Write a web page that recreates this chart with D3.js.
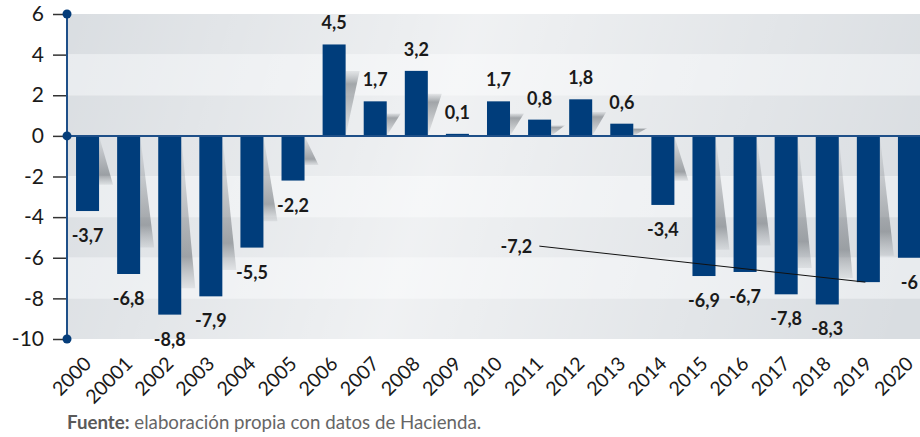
<!DOCTYPE html>
<html>
<head>
<meta charset="utf-8">
<script src="https://cdn.jsdelivr.net/npm/d3@7"></script>
<style>
  body { margin: 0; background: #fff; }
  svg { display: block; font-family: Lato, "Open Sans", sans-serif; }
</style>
</head>
<body>
<div id="chart"></div>
<script>
// data
var years = ["2000", "20001", "2002", "2003", "2004", "2005", "2006", "2007", "2008", "2009",
  "2010", "2011", "2012", "2013", "2014", "2015", "2016", "2017", "2018", "2019", "2020"];
var values = [-3.7, -6.8, -8.8, -7.9, -5.5, -2.2, 4.5, 1.7, 3.2, 0.1,
  1.7, 0.8, 1.8, 0.6, -3.4, -6.9, -6.7, -7.8, -8.3, -7.2, -6];
var yTicks = [6, 4, 2, 0, -2, -4, -6, -8, -10];
var dotTicks = [6, 0, -10];
var source = "elaboración propia con datos de Hacienda.";

var svgWidth = 920;
var svgHeight = 437;

var plot = { left: 67, top: 14, bottom: 339, right: 930 };

var svg = d3.select("#chart")
  .append("svg")
  .attr("width", svgWidth)
  .attr("height", svgHeight);

var data = years.map(function(y, i) { return { year: y, value: values[i] }; });

// scales
var x = d3.scaleBand()
  .domain(years)
  .range([plot.left, plot.right])
  .paddingInner(0.44)
  .paddingOuter(0.22);

var y = d3.scaleLinear()
  .domain([-10, 6])
  .range([plot.bottom, plot.top]);

var defs = svg.append("defs");

// light streak over the banded background
var sheen = defs.append("linearGradient")
  .attr("id", "sheen")
  .attr("gradientUnits", "userSpaceOnUse")
  .attr("x1", 60).attr("y1", 0)
  .attr("x2", 920).attr("y2", 260);
sheen.append("stop").attr("offset", "0").attr("stop-color", "#fff").attr("stop-opacity", 0);
sheen.append("stop").attr("offset", "0.45").attr("stop-color", "#fff").attr("stop-opacity", 0.6);
sheen.append("stop").attr("offset", "1").attr("stop-color", "#fff").attr("stop-opacity", 0);

// shadow gradients
var shNeg = defs.append("linearGradient")
  .attr("id", "shNeg").attr("x1", 0).attr("y1", 0).attr("x2", 0).attr("y2", 1);
shNeg.append("stop").attr("offset", "0").attr("stop-color", "#6e7378").attr("stop-opacity", 0.05);
shNeg.append("stop").attr("offset", "0.8").attr("stop-color", "#6e7378").attr("stop-opacity", 0.6);
shNeg.append("stop").attr("offset", "1").attr("stop-color", "#8a8f94").attr("stop-opacity", 0.15);

var shPos = defs.append("linearGradient")
  .attr("id", "shPos").attr("x1", 0).attr("y1", 1).attr("x2", 0).attr("y2", 0);
shPos.append("stop").attr("offset", "0").attr("stop-color", "#6e7378").attr("stop-opacity", 0.05);
shPos.append("stop").attr("offset", "0.8").attr("stop-color", "#6e7378").attr("stop-opacity", 0.6);
shPos.append("stop").attr("offset", "1").attr("stop-color", "#8a8f94").attr("stop-opacity", 0.15);

// background bands between gridlines
var bandEdges = d3.pairs(yTicks);
var bandDark = [true, false, true, true, false, true, false, true];
svg.append("g")
  .selectAll("rect")
  .data(bandEdges)
  .enter()
  .append("rect")
  .attr("x", plot.left)
  .attr("y", d => y(d[0]))
  .attr("width", svgWidth - plot.left)
  .attr("height", d => y(d[1]) - y(d[0]))
  .attr("fill", (d, i) => bandDark[i] ? "#d9dde1" : "#e8ebee");

svg.append("rect")
  .attr("x", plot.left)
  .attr("y", plot.top)
  .attr("width", svgWidth - plot.left)
  .attr("height", plot.bottom - plot.top)
  .attr("fill", "url(#sheen)");

// shadows behind the bars
function shadowEnd(v) {
  var cut = Math.min(1.3, Math.abs(v) * 0.35);
  return v < 0 ? v + cut : v - cut;
}

var slant = 14;
svg.append("g")
  .selectAll("path")
  .data(data.filter(d => Math.abs(d.value) > 0.3))
  .enter()
  .append("path")
  .attr("d", function(d) {
    var xr = x(d.year) + x.bandwidth();
    var y0 = y(0);
    var y1 = y(shadowEnd(d.value));
    return "M" + xr + "," + y0 + "L" + xr + "," + y1 + "L" + (xr + slant) + "," + y1 + "Z";
  })
  .attr("fill", d => d.value < 0 ? "url(#shNeg)" : "url(#shPos)");

// bars
svg.append("g")
  .selectAll("rect")
  .data(data)
  .enter()
  .append("rect")
  .attr("x", d => x(d.year))
  .attr("y", d => y(Math.max(0, d.value)))
  .attr("width", x.bandwidth())
  .attr("height", d => Math.abs(y(d.value) - y(0)))
  .attr("fill", "#003d7b");

// zero line
svg.append("line")
  .attr("x1", plot.left).attr("x2", svgWidth)
  .attr("y1", y(0)).attr("y2", y(0))
  .attr("stroke", "#1e4f88")
  .attr("stroke-width", 2);

// y axis
var leftAxis = d3.axisLeft(y)
  .tickValues(yTicks)
  .tickSize(14)
  .tickPadding(9)
  .tickFormat(d => d);

var yAxis = svg.append("g")
  .attr("transform", `translate(${plot.left}, 0)`)
  .call(leftAxis);
yAxis.select(".domain").remove();
yAxis.selectAll(".tick line").attr("stroke", "#333").attr("stroke-width", 1.5);
yAxis.selectAll(".tick text")
  .attr("fill", "#1a1a1a")
  .style("font-size", "21px")
  .style("font-family", "Lato, sans-serif");

svg.append("line")
  .attr("x1", plot.left).attr("x2", plot.left)
  .attr("y1", plot.top).attr("y2", plot.bottom)
  .attr("stroke", "#1e4f88")
  .attr("stroke-width", 2);

svg.append("g")
  .selectAll("circle")
  .data(dotTicks)
  .enter()
  .append("circle")
  .attr("cx", plot.left)
  .attr("cy", d => y(d))
  .attr("r", 4.5)
  .attr("fill", "#053d7a");

// x axis labels
var bottomAxis = d3.axisBottom(x).tickSize(0);
var xAxis = svg.append("g")
  .attr("transform", `translate(0, ${plot.bottom})`)
  .call(bottomAxis);
xAxis.select(".domain").remove();
xAxis.selectAll(".tick text")
  .attr("x", 0)
  .attr("y", 0)
  .attr("dy", 0)
  .attr("text-anchor", "end")
  .attr("transform", "translate(5, 26) rotate(-45)")
  .attr("fill", "#1a1a1a")
  .style("font-size", "19.5px")
  .style("font-family", "Lato, sans-serif");

// value labels
var fmt = v => String(v).replace(".", ",");
var moved = "2019"; // this label sits off to the left with a leader line

var labelGroup = svg.append("g")
  .style("font-size", "18px")
  .style("font-weight", "bold")
  .attr("fill", "#1a1a1a")
  .attr("text-anchor", "middle");

labelGroup.selectAll("text")
  .data(data)
  .enter()
  .append("text")
  .attr("x", d => d.year === moved ? x(d.year) + x.bandwidth() / 2 - 352 : x(d.year) + x.bandwidth() / 2)
  .attr("y", function(d) {
    if (d.year === moved) return y(d.value) - 29;
    return d.value >= 0 ? y(d.value) - 15 : y(d.value) + 31;
  })
  .text(d => fmt(d.value));

var m = data.find(d => d.year === moved);
var mx = x(m.year) + x.bandwidth() / 2;
svg.append("line")
  .attr("x1", mx - 329).attr("y1", y(m.value) - 36)
  .attr("x2", mx - 3).attr("y2", y(m.value))
  .attr("stroke", "#111")
  .attr("stroke-width", 1);

// source note
var note = svg.append("text")
  .attr("x", 67)
  .attr("y", 429)
  .style("font-size", "18.7px")
  .attr("fill", "#666");
note.append("tspan").style("font-weight", "bold").attr("fill", "#5a5a5a").text("Fuente:");
note.append("tspan").text(" " + source);
</script>
</body>
</html>
